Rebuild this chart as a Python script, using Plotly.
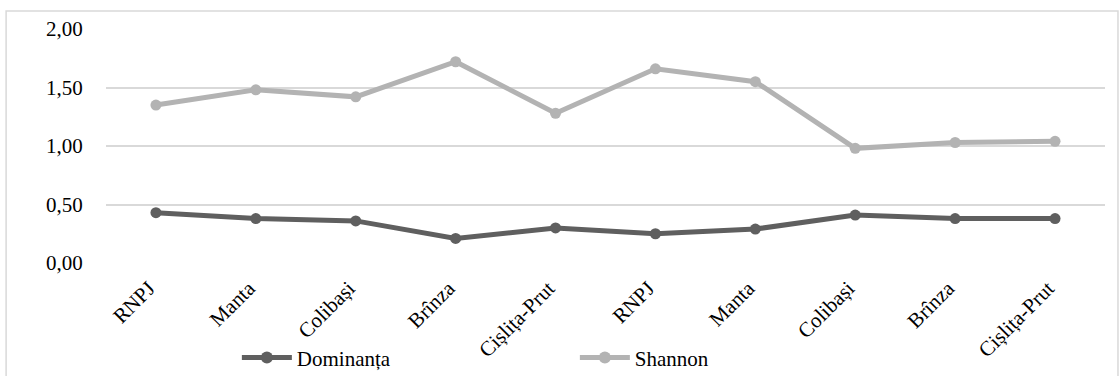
import plotly.graph_objects as go

categories = ["RNPJ", "Manta", "Colibași", "Brînza", "Cișlița-Prut",
              "RNPJ", "Manta", "Colibași", "Brînza", "Cișlița-Prut"]
dominanta = [0.43, 0.38, 0.36, 0.21, 0.30, 0.25, 0.29, 0.41, 0.38, 0.38]
shannon = [1.35, 1.48, 1.42, 1.72, 1.28, 1.66, 1.55, 0.98, 1.03, 1.04]
y_ticks = [0, 0.5, 1.0, 1.5, 2.0]

x = list(range(len(categories)))
font = "Liberation Serif"

fig = go.Figure()
fig.add_trace(go.Scatter(x=x, y=dominanta, name="Dominanța", mode="lines+markers",
                         line=dict(color="#5f5f5f", width=5),
                         marker=dict(size=11, color="#5f5f5f")))
fig.add_trace(go.Scatter(x=x, y=shannon, name="Shannon", mode="lines+markers",
                         line=dict(color="#b3b3b3", width=5),
                         marker=dict(size=11, color="#b3b3b3")))

fig.update_layout(
    width=1119, height=376,
    margin=dict(l=106, r=14, t=29, b=113, autoexpand=False),
    paper_bgcolor="white", plot_bgcolor="white",
    separators=",.",
    font=dict(family=font, size=21, color="black"),
    showlegend=True,
    legend=dict(orientation="h", x=0.131, xanchor="left", y=-0.405, yanchor="middle",
                font=dict(family=font, size=21, color="black"),
                itemwidth=50, entrywidth=273, entrywidthmode="pixels",
                bgcolor="rgba(0,0,0,0)", tracegroupgap=0, itemsizing="constant"),
    xaxis=dict(tickmode="array", tickvals=x, ticktext=categories, tickangle=-45,
               range=[-0.5, len(categories) - 0.5], showgrid=False, zeroline=False,
               showline=False, ticks="", automargin=False,
               ticklabelstandoff=8, ticklabelshift=-7,
               tickfont=dict(family=font, size=21)),
    yaxis=dict(tickmode="array", tickvals=y_ticks, tickformat=".2f", range=[0, 2.0],
               showgrid=True, gridcolor="#d9d9d9", gridwidth=1.5, zeroline=False,
               showline=False, ticks="outside", ticklen=18, tickcolor="rgba(0,0,0,0)",
               automargin=False, tickfont=dict(family=font, size=21)),
    shapes=[dict(type="rect", xref="paper", yref="paper",
                 x0=-0.1, x1=1.013, y0=1.077, y1=-0.7,
                 line=dict(color="#d9d9d9", width=1.5), layer="below")],
)
fig.write_html("out.html", config={"displayModeBar": False},
               post_script="document.body.style.margin='0';document.body.style.padding='0';")
